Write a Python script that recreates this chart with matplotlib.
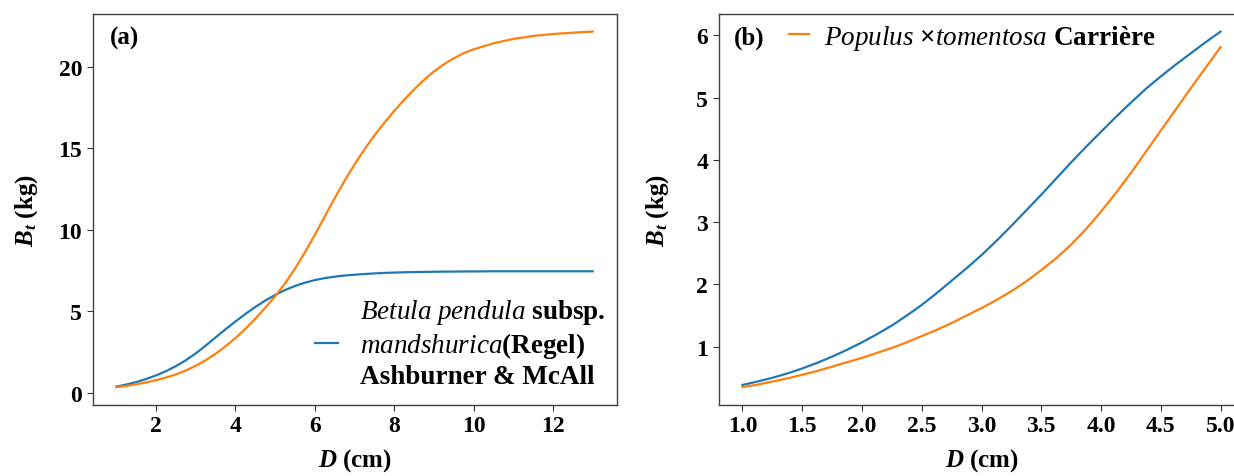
import numpy as np
import matplotlib
matplotlib.use('Agg')
import matplotlib.pyplot as plt

plt.rcParams['font.family'] = ['Liberation Serif', 'DejaVu Serif']
plt.rcParams['font.weight'] = 'bold'
plt.rcParams['mathtext.fontset'] = 'custom'
plt.rcParams['mathtext.rm'] = 'Liberation Serif:weight=bold'
plt.rcParams['mathtext.it'] = 'Liberation Serif:style=italic:weight=normal'
plt.rcParams['mathtext.bf'] = 'Liberation Serif:weight=bold'
plt.rcParams['mathtext.bfit'] = 'Liberation Serif:style=italic:weight=bold'

#%% datos
# (a)
D_a = [1.0, 1.25, 1.5, 1.75, 2.0, 2.25, 2.5, 2.75, 3.0, 3.25, 3.5, 3.75, 4.0,
       4.25, 4.5, 4.75, 5.0, 5.25, 5.5, 5.75, 6.0, 6.25, 6.5, 6.75, 7.0, 7.25,
       7.5, 7.75, 8.0, 8.25, 8.5, 8.75, 9.0, 9.25, 9.5, 9.75, 10.0, 10.5, 11.0,
       11.5, 12.0, 12.5, 13.0]
Bt_a_azul = [0.38, 0.51, 0.66, 0.85, 1.07, 1.33, 1.64, 2.00, 2.42, 2.90, 3.40,
             3.90, 4.38, 4.84, 5.27, 5.66, 6.01, 6.31, 6.56, 6.76, 6.92, 7.04,
             7.13, 7.20, 7.25, 7.29, 7.33, 7.36, 7.38, 7.40, 7.41, 7.42, 7.43,
             7.44, 7.44, 7.45, 7.45, 7.46, 7.46, 7.46, 7.46, 7.46, 7.46]
Bt_a_naranja = [0.35, 0.42, 0.52, 0.64, 0.78, 0.94, 1.13, 1.37, 1.66, 2.00,
                2.40, 2.86, 3.36, 3.92, 4.55, 5.22, 5.92, 6.72, 7.62, 8.62,
                9.70, 10.82, 11.95, 13.02, 14.02, 14.94, 15.79, 16.57, 17.30,
                17.98, 18.62, 19.20, 19.72, 20.16, 20.53, 20.84, 21.08, 21.45,
                21.72, 21.90, 22.02, 22.10, 22.17]

# (b)
D_b = [1.0, 1.125, 1.25, 1.375, 1.5, 1.625, 1.75, 1.875, 2.0, 2.125, 2.25,
       2.375, 2.5, 2.625, 2.75, 2.875, 3.0, 3.125, 3.25, 3.375, 3.5, 3.625,
       3.75, 3.875, 4.0, 4.125, 4.25, 4.375, 4.5, 4.625, 4.75, 4.875, 5.0]
Bt_b_azul = [0.385, 0.44, 0.50, 0.57, 0.65, 0.74, 0.84, 0.95, 1.07, 1.20, 1.34,
             1.50, 1.67, 1.86, 2.06, 2.26, 2.47, 2.70, 2.94, 3.19, 3.44, 3.70,
             3.96, 4.21, 4.45, 4.69, 4.92, 5.14, 5.34, 5.53, 5.71, 5.89, 6.06]
Bt_b_naranja = [0.35, 0.39, 0.44, 0.49, 0.55, 0.61, 0.68, 0.75, 0.82, 0.90,
                0.98, 1.07, 1.17, 1.27, 1.38, 1.50, 1.62, 1.75, 1.89, 2.05,
                2.23, 2.42, 2.64, 2.89, 3.17, 3.47, 3.79, 4.13, 4.47, 4.81,
                5.15, 5.48, 5.81]

lbl_a = ('$\\mathit{Betula\\ pendula}$ subsp.\n'
         '$\\mathit{mandshurica}$(Regel)\n'
         'Ashburner & McAll')
lbl_b = '$\\mathit{Populus\\ \u00d7tomentosa}$ Carri\u00e8re'

#%% figura
fig = plt.figure(figsize=(12.34, 4.77), dpi=100)
ax1 = fig.add_axes([0.0750, 0.149, 0.4246, 0.820])
ax2 = fig.add_axes([0.5823, 0.149, 0.4262, 0.820])

ax1.plot(D_a, Bt_a_azul, c='C0', lw=1.6, label=lbl_a)
ax1.plot(D_a, Bt_a_naranja, c='C1', lw=1.6)
ax2.plot(D_b, Bt_b_azul, c='C0', lw=1.6)
ax2.plot(D_b, Bt_b_naranja, c='C1', lw=1.6, label=lbl_b)

ax1.set_xticks([2, 4, 6, 8, 10, 12])
ax1.set_yticks([0, 5, 10, 15, 20])
ax2.set_xticks([1.0, 1.5, 2.0, 2.5, 3.0, 3.5, 4.0, 4.5, 5.0])
ax2.set_yticks([1, 2, 3, 4, 5, 6])

ax1.legend(loc='center left', bbox_to_anchor=(0.4246, 0.159), frameon=False,
           fontsize=19.5, handlelength=0.85, handletextpad=0.8,
           borderpad=0, borderaxespad=0, labelspacing=0.3)
ax2.legend(loc='center left', bbox_to_anchor=(0.134, 0.94), frameon=False,
           fontsize=19.5, handlelength=0.75, handletextpad=0.55,
           borderpad=0, borderaxespad=0)

ax1.text(0.033, 0.94, '(a)', transform=ax1.transAxes, fontsize=18,
         fontweight='bold', va='center', ha='left')
ax2.text(0.029, 0.94, '(b)', transform=ax2.transAxes, fontsize=18,
         fontweight='bold', va='center', ha='left')

for a in (ax1, ax2):
    a.set_xlabel('$\\mathbfit{D}$ (cm)', fontsize=18, fontweight='bold', labelpad=7)
    a.tick_params(labelsize=17, length=4, color='#333333')
    for lab in a.get_xticklabels() + a.get_yticklabels():
        lab.set_fontweight('bold')
    for s in a.spines.values():
        s.set_color('#404040')
        s.set_linewidth(1.0)
ax1.set_ylabel('$\\mathbfit{B}_{\\mathbfit{t}}$ (kg)', fontsize=18,
               fontweight='bold', labelpad=13)
ax2.set_ylabel('$\\mathbfit{B}_{\\mathbfit{t}}$ (kg)', fontsize=18,
               fontweight='bold', labelpad=18)

fig.savefig('out.png', dpi=100)
